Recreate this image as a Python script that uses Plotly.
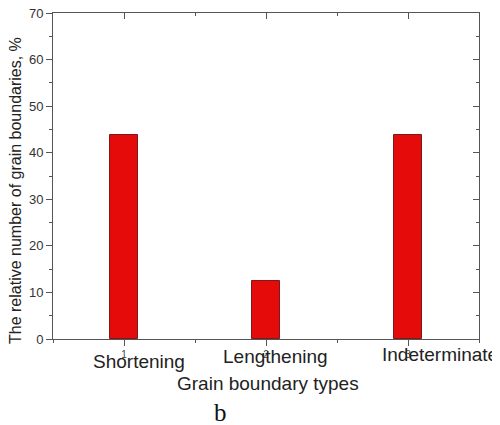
import plotly.graph_objects as go

categories = ["Shortening", "Lengthening", "Indeterminate"]
positions = [1, 2, 3]
values = [43.75, 12.5, 43.75]
y_ticks = [0, 10, 20, 30, 40, 50, 60, 70]

# label placement offsets (pixels) relative to tick positions
label_xshift = [15, 9, 32]
label_yshift = [-22, -17, -15]

AX = "#555555"
TXT = "#222222"
FONT = "Liberation Sans, Arial, sans-serif"

fig = go.Figure()
fig.add_trace(go.Bar(
    x=positions, y=values, width=0.2,
    marker=dict(color="#E60B0B", line=dict(color="#7A1A1A", width=1)),
    showlegend=False, hoverinfo="skip",
))
fig.add_trace(go.Scatter(x=[None], y=[None], xaxis="x2", yaxis="y2",
                         showlegend=False, hoverinfo="skip"))

common = dict(showline=True, linecolor=AX, linewidth=1, showgrid=False,
              zeroline=False, tickcolor=AX, tickwidth=1, automargin=False)

# page body has an 8px default margin, so the figure is sized to fit the window
fig.update_layout(
    width=492, height=417,
    margin=dict(l=45, r=21, t=5, b=86, autoexpand=False),
    paper_bgcolor="white", plot_bgcolor="white",
    font=dict(family=FONT, color=TXT),
    xaxis=dict(range=[0.5, 3.5], tickmode="linear", tick0=1, dtick=1,
               ticks="outside", ticklen=6,
               minor=dict(tickmode="linear", tick0=0.5, dtick=0.5, ticks="outside", ticklen=3,
                          tickcolor=AX),
               tickfont=dict(size=10, color="#444444"), **common),
    xaxis2=dict(range=[0.5, 3.5], overlaying="x", side="top", tickmode="linear", tick0=1, dtick=1,
                ticks="inside", ticklen=6, showticklabels=False,
                minor=dict(tickmode="linear", tick0=0.5, dtick=0.5, ticks="inside", ticklen=3,
                           tickcolor=AX),
                **common),
    yaxis=dict(range=[0, 70], tickmode="array", tickvals=y_ticks,
               ticks="outside", ticklen=6, ticklabeloverflow="allow",
               minor=dict(tickmode="linear", tick0=0, dtick=5, ticks="outside", ticklen=3,
                          tickcolor=AX),
               tickfont=dict(size=13, color="#333333"), **common),
    yaxis2=dict(range=[0, 70], overlaying="y", side="right", tickmode="array", tickvals=y_ticks,
                ticks="inside", ticklen=6, showticklabels=False,
                minor=dict(tickmode="linear", tick0=0, dtick=5, ticks="inside", ticklen=3,
                           tickcolor=AX),
                **common),
    bargap=0,
)

annotations = []
for cat, pos, xs, ys in zip(categories, positions, label_xshift, label_yshift):
    annotations.append(dict(text=cat, x=pos, xref="x", y=0, yref="paper",
                            xanchor="center", yanchor="middle", xshift=xs, yshift=ys,
                            showarrow=False, font=dict(size=19, family=FONT, color=TXT)))
annotations.append(dict(text="Grain boundary types", x=0.5, xref="paper", y=0, yref="paper",
                        xanchor="center", yanchor="middle", xshift=2, yshift=-44,
                        showarrow=False, font=dict(size=19, family=FONT, color=TXT)))
annotations.append(dict(text="The relative number of grain boundaries, %", x=0, xref="paper",
                        y=0.5, yref="paper", xanchor="center", yanchor="middle",
                        xshift=-38, yshift=-15, textangle=-90, showarrow=False,
                        font=dict(size=16, family=FONT, color=TXT)))
annotations.append(dict(text="b", x=0, xref="paper", y=0, yref="paper",
                        xanchor="center", yanchor="middle", xshift=167, yshift=-73,
                        showarrow=False,
                        font=dict(size=25, family="Liberation Serif, Times New Roman, serif",
                                  color="#111111")))
fig.update_layout(annotations=annotations)

fig.write_html("out.html")
